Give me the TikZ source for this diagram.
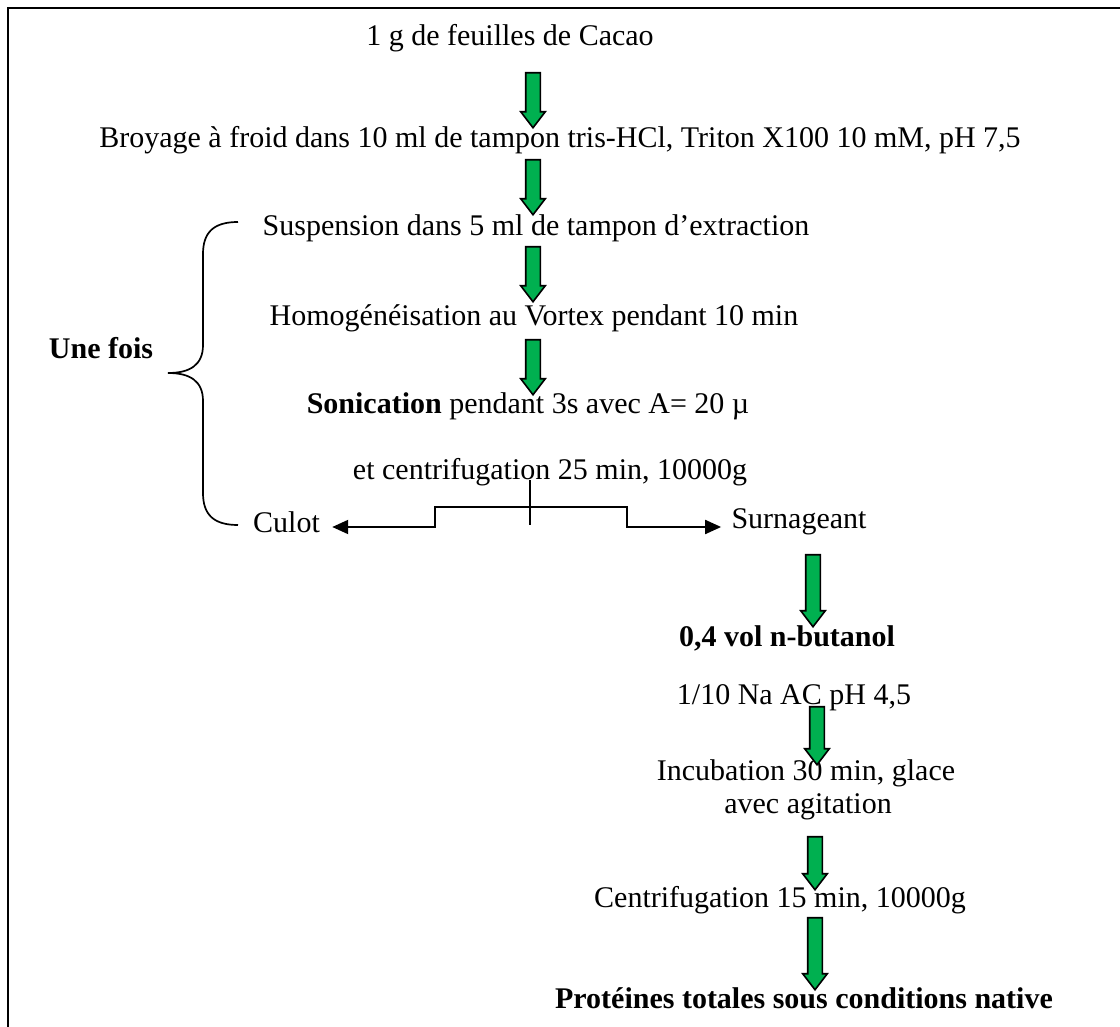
\documentclass[tikz,border=0pt]{standalone}
\usepackage{fontspec}
\setmainfont{Liberation Serif}
\usepackage{tikz}
\usetikzlibrary{shapes.arrows, arrows.meta}
\definecolor{arrowgreen}{RGB}{0,176,80}

\tikzset{
  txt/.style={inner sep=0pt, font=\fontsize{15}{18}\selectfont},
  garrow/.style={single arrow, draw=black, line width=0.8pt, fill=arrowgreen,
    rotate=-90, inner xsep=0pt, inner ysep=3.25pt, minimum height=#1,
    single arrow head extend=2.5pt, single arrow tip angle=75},
  conn/.style={line width=1pt, -{Triangle[length=8pt,width=7pt]}}
}

\begin{document}
\begin{tikzpicture}[x=0.5pt, y=-0.5pt]
\useasboundingbox (0,0) rectangle (1120,1027);
% frame
\draw[line width=1.2pt] (8,1027) -- (8,8) -- (1120,8);
% steps
\node[txt] (feuilles) at (510,38) {1 g de feuilles de Cacao};
\node[txt] (broyage) at (560,140) {Broyage à froid dans 10 ml de tampon tris-HCl, Triton X100 10 mM, pH 7,5};
\node[txt] (suspension) at (536,228) {Suspension dans 5 ml de tampon d’extraction};
\node[txt] (vortex) at (534,318) {Homogénéisation au Vortex pendant 10 min};
\node[txt] (sonic) at (528,406) {\textbf{Sonication} pendant 3s avec A= 20 µ};
\node[txt] (centri) at (550,472) {et centrifugation 25 min, 10000g};
\node[txt, inner xsep=6pt] (culot) at (286.5,522) {Culot};
\node[txt, inner xsep=5pt] (surnag) at (799,522) {Surnageant};
\node[txt] (butanol) at (787,638) {\textbf{0,4 vol n-butanol}};
\node[txt] (naac) at (794,698) {1/10 Na AC pH 4,5};
\node[txt] (incub) at (806,773) {Incubation 30 min, glace};
\node[txt] (agit) at (808,807) {avec agitation};
\node[txt] (centri2) at (780,900) {Centrifugation 15 min, 10000g};
\node[txt] (proteines) at (804,998) {\textbf{Protéines totales sous conditions native}};
\node[txt] (fois) at (101,348) {\textbf{Une fois}};
% green arrows
\node[garrow=27.5pt] (a1) at (533,95.5) {};
\node[garrow=27.5pt] (a2) at (533,182.5) {};
\node[garrow=27.5pt] (a3) at (533,269.5) {};
\node[garrow=27.5pt] (a4) at (533,362.5) {};
\node[garrow=36pt] (a5) at (813,586) {};
\node[garrow=29pt] (a6) at (817,731) {};
\node[garrow=26.5pt] (a7) at (815,858.5) {};
\node[garrow=36pt] (a8) at (815,949) {};
% split
\coordinate (split) at (530,507);
\coordinate (ticktop) at (530,480);
\coordinate (tickbot) at (530,525);
\coordinate (lstep) at (435,527);
\coordinate (rstep) at (627,527);
\draw[line width=1pt] (ticktop) -- (tickbot);
\draw[conn] (split) -| (lstep) -- (culot.east |- lstep);
\draw[conn] (split) -| (rstep) -- (surnag.west |- rstep);
% brace
\draw[line width=0.85pt] (238,222) .. controls (214,222) and (203,232) .. (203,254) -- (203,345)
  .. controls (203,365) and (190,373) .. (168,373)
  .. controls (190,373) and (203,381) .. (203,401) -- (203,493)
  .. controls (203,515) and (214,525) .. (238,525);
\end{tikzpicture}
\end{document}
